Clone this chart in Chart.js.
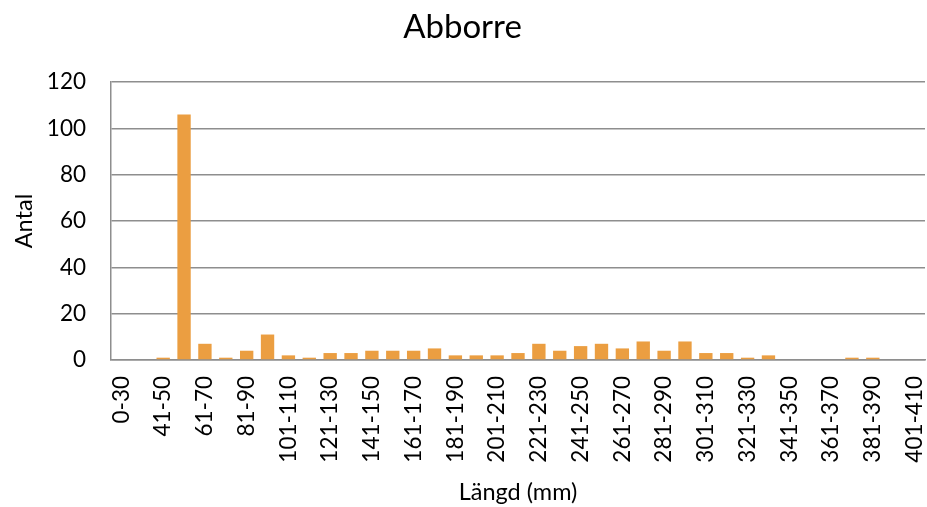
<!DOCTYPE html>
<html>
<head>
<meta charset="utf-8">
<script src="https://cdn.jsdelivr.net/npm/chart.js@4/dist/chart.umd.min.js"></script>
<style>
  html, body { margin: 0; padding: 0; background: #fff; }
  #wrap { width: 927px; height: 507px; position: relative; }
</style>
</head>
<body>
<div id="wrap"><canvas id="c"></canvas></div>
<script>
const categories = ['0-30','31-40','41-50','51-60','61-70','71-80','81-90','91-100','101-110','111-120',
  '121-130','131-140','141-150','151-160','161-170','171-180','181-190','191-200','201-210','211-220',
  '221-230','231-240','241-250','251-260','261-270','271-280','281-290','291-300','301-310','311-320',
  '321-330','331-340','341-350','351-360','361-370','371-380','381-390','391-400','401-410'];
const antal = [0,0,1,106,7,1,4,11,2,1,
  3,3,4,4,4,5,2,2,2,3,
  7,4,6,7,5,8,4,8,3,3,
  1,2,0,0,0,1,1,0,0];
const yTicks = [0,20,40,60,80,100,120];

const FONT = 'Lato, Carlito, Calibri, sans-serif';
const GRID = '#8e8e8e';

new Chart(document.getElementById('c'), {
  type: 'bar',
  data: {
    labels: categories,
    datasets: [{
      label: 'Antal',
      data: antal,
      backgroundColor: '#EB9E41',
      borderWidth: 0,
      categoryPercentage: 1.0,
      barPercentage: 0.64
    }]
  },
  options: {
    responsive: true,
    maintainAspectRatio: false,
    animation: false,
    layout: { padding: { left: 0, right: 2, top: 0, bottom: 0 } },
    plugins: {
      legend: { display: false },
      tooltip: { enabled: false },
      title: {
        display: true,
        text: 'Abborre',
        color: '#000',
        font: { family: FONT, size: 33, weight: 'normal', lineHeight: 1.2 },
        padding: { top: 7.5, bottom: 35 }
      }
    },
    scales: {
      x: {
        grid: { display: false, drawTicks: false },
        border: { display: true, color: GRID, width: 1.5 },
        ticks: {
          autoSkip: false,
          maxRotation: 90,
          minRotation: 90,
          padding: 16,
          color: '#000',
          font: { family: FONT, size: 22.5 },
          callback: function(v, i) { return i % 2 === 0 ? categories[i] : ''; }
        },
        title: {
          display: true,
          text: 'Längd (mm)',
          color: '#000',
          font: { family: FONT, size: 23.5, lineHeight: 1.2 },
          padding: 0
        },
        afterFit: function(s) { s.height = 147; s.paddingLeft = 0; s.paddingRight = 0; }
      },
      y: {
        min: 0,
        max: 120,
        afterBuildTicks: function(s) { s.ticks = yTicks.map(v => ({ value: v })); },
        grid: { color: GRID, lineWidth: 1.5, drawTicks: false },
        border: { display: true, color: GRID, width: 1.5 },
        ticks: {
          padding: 25,
          color: '#000',
          font: { family: FONT, size: 22.5 }
        },
        title: {
          display: true,
          text: 'Antal',
          color: '#000',
          font: { family: FONT, size: 23.5, lineHeight: 1.2 },
          padding: { top: 10, bottom: 10 }
        },
        afterFit: function(s) { s.width = 111; s.paddingTop = 0; s.paddingBottom = 0; }
      }
    }
  }
});
</script>
</body>
</html>
